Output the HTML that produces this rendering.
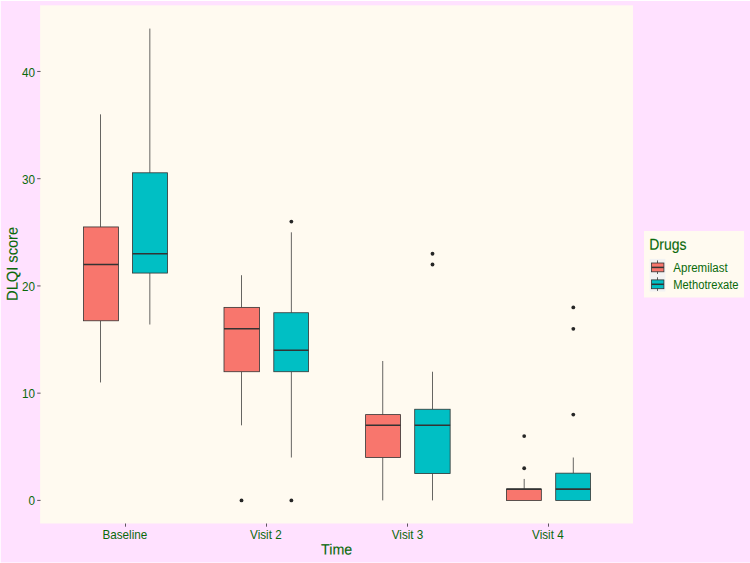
<!DOCTYPE html>
<html>
<head>
<meta charset="utf-8">
<title>DLQI score by Time</title>
<style>
html, body { margin: 0; padding: 0; background: #ffffff; }
body { width: 750px; height: 563px; overflow: hidden; font-family: "Liberation Sans", sans-serif; }
svg { display: block; }
text { font-family: "Liberation Sans", sans-serif; fill: #0a690a; }
.ax { font-size: 11.7px; }
.ti { font-size: 14.7px; }
.lt { font-size: 14.2px; }
</style>
</head>
<body>
<svg width="750" height="563" viewBox="0 0 750 563">
<rect x="0" y="0" width="750" height="563" fill="#ffffff"/>
<rect x="0.8" y="1" width="749.2" height="561.5" fill="#FFE1FF"/>
<rect x="40.1" y="5.3" width="592.90" height="518.20" fill="#FFFAF0"/>
<line x1="100.50" x2="100.50" y1="114.35" y2="226.95" stroke="#333333" stroke-width="0.75"/>
<line x1="100.50" x2="100.50" y1="320.78" y2="382.44" stroke="#333333" stroke-width="0.75"/>
<rect x="83.50" y="226.95" width="34.95" height="93.83" fill="#F8766D" stroke="#333333" stroke-width="0.8"/>
<line x1="83.50" x2="118.45" y1="264.48" y2="264.48" stroke="#333333" stroke-width="1.55"/>
<line x1="149.84" x2="149.84" y1="28.57" y2="172.8" stroke="#333333" stroke-width="0.75"/>
<line x1="149.84" x2="149.84" y1="273.06" y2="324.53" stroke="#333333" stroke-width="0.75"/>
<rect x="132.50" y="172.8" width="35.05" height="100.26" fill="#00BFC4" stroke="#333333" stroke-width="0.8"/>
<line x1="132.50" x2="167.55" y1="253.76" y2="253.76" stroke="#333333" stroke-width="1.55"/>
<circle cx="241.50" cy="500.4" r="1.9" fill="#262626"/>
<line x1="241.50" x2="241.50" y1="275.21" y2="307.38" stroke="#333333" stroke-width="0.75"/>
<line x1="241.50" x2="241.50" y1="371.72" y2="425.34" stroke="#333333" stroke-width="0.75"/>
<rect x="224.00" y="307.38" width="35.55" height="64.34" fill="#F8766D" stroke="#333333" stroke-width="0.8"/>
<line x1="224.00" x2="259.55" y1="328.82" y2="328.82" stroke="#333333" stroke-width="1.55"/>
<circle cx="291.36" cy="221.59" r="1.9" fill="#262626"/>
<circle cx="291.36" cy="500.4" r="1.9" fill="#262626"/>
<line x1="291.36" x2="291.36" y1="232.31" y2="312.74" stroke="#333333" stroke-width="0.75"/>
<line x1="291.36" x2="291.36" y1="371.72" y2="457.51" stroke="#333333" stroke-width="0.75"/>
<rect x="273.80" y="312.74" width="34.75" height="58.98" fill="#00BFC4" stroke="#333333" stroke-width="0.8"/>
<line x1="273.80" x2="308.55" y1="350.27" y2="350.27" stroke="#333333" stroke-width="1.55"/>
<line x1="382.73" x2="382.73" y1="360.99" y2="414.61" stroke="#333333" stroke-width="0.75"/>
<line x1="382.73" x2="382.73" y1="457.51" y2="500.4" stroke="#333333" stroke-width="0.75"/>
<rect x="365.60" y="414.61" width="34.95" height="42.90" fill="#F8766D" stroke="#333333" stroke-width="0.8"/>
<line x1="365.60" x2="400.55" y1="425.34" y2="425.34" stroke="#333333" stroke-width="1.55"/>
<circle cx="432.50" cy="253.76" r="1.9" fill="#262626"/>
<circle cx="432.50" cy="264.48" r="1.9" fill="#262626"/>
<line x1="432.50" x2="432.50" y1="371.72" y2="409.25" stroke="#333333" stroke-width="0.75"/>
<line x1="432.50" x2="432.50" y1="473.59" y2="500.4" stroke="#333333" stroke-width="0.75"/>
<rect x="414.70" y="409.25" width="35.45" height="64.34" fill="#00BFC4" stroke="#333333" stroke-width="0.8"/>
<line x1="414.70" x2="450.15" y1="425.34" y2="425.34" stroke="#333333" stroke-width="1.55"/>
<circle cx="524.20" cy="436.06" r="1.9" fill="#262626"/>
<circle cx="524.20" cy="468.23" r="1.9" fill="#262626"/>
<line x1="524.20" x2="524.20" y1="478.95" y2="489.14" stroke="#333333" stroke-width="0.75"/>
<rect x="506.40" y="489.14" width="34.95" height="11.26" fill="#F8766D" stroke="#333333" stroke-width="0.8"/>
<line x1="506.40" x2="541.35" y1="489.14" y2="489.14" stroke="#333333" stroke-width="1.55"/>
<circle cx="573.30" cy="307.38" r="1.9" fill="#262626"/>
<circle cx="573.30" cy="328.82" r="1.9" fill="#262626"/>
<circle cx="573.30" cy="414.61" r="1.9" fill="#262626"/>
<line x1="573.30" x2="573.30" y1="457.51" y2="473.16" stroke="#333333" stroke-width="0.75"/>
<rect x="555.70" y="473.16" width="34.75" height="27.24" fill="#00BFC4" stroke="#333333" stroke-width="0.8"/>
<line x1="555.70" x2="590.45" y1="489.14" y2="489.14" stroke="#333333" stroke-width="1.55"/>
<line x1="37.2" x2="40.6" y1="500.4" y2="500.4" stroke="#333333" stroke-width="0.8"/>
<text transform="translate(35.10,505.45) scale(1,1.1)" text-anchor="end" font-size="11.7">0</text>
<line x1="37.2" x2="40.6" y1="393.16" y2="393.16" stroke="#333333" stroke-width="0.8"/>
<text transform="translate(35.10,398.21) scale(1,1.1)" text-anchor="end" font-size="11.7">10</text>
<line x1="37.2" x2="40.6" y1="285.93" y2="285.93" stroke="#333333" stroke-width="0.8"/>
<text transform="translate(35.10,290.98) scale(1,1.1)" text-anchor="end" font-size="11.7">20</text>
<line x1="37.2" x2="40.6" y1="178.69" y2="178.69" stroke="#333333" stroke-width="0.8"/>
<text transform="translate(35.10,183.74) scale(1,1.1)" text-anchor="end" font-size="11.7">30</text>
<line x1="37.2" x2="40.6" y1="71.46" y2="71.46" stroke="#333333" stroke-width="0.8"/>
<text transform="translate(35.10,76.51) scale(1,1.1)" text-anchor="end" font-size="11.7">40</text>
<line x1="125.50" x2="125.50" y1="523.5" y2="526.70" stroke="#333333" stroke-width="0.8"/>
<text transform="translate(124.90,538.90) scale(1,1.1)" text-anchor="middle" font-size="11.7">Baseline</text>
<line x1="266.50" x2="266.50" y1="523.5" y2="526.70" stroke="#333333" stroke-width="0.8"/>
<text transform="translate(265.90,538.90) scale(1,1.1)" text-anchor="middle" font-size="11.7">Visit 2</text>
<line x1="407.50" x2="407.50" y1="523.5" y2="526.70" stroke="#333333" stroke-width="0.8"/>
<text transform="translate(407.50,538.90) scale(1,1.1)" text-anchor="middle" font-size="11.7">Visit 3</text>
<line x1="548.50" x2="548.50" y1="523.5" y2="526.70" stroke="#333333" stroke-width="0.8"/>
<text transform="translate(547.90,538.90) scale(1,1.1)" text-anchor="middle" font-size="11.7">Visit 4</text>
<text transform="translate(336.60,554.60) rotate(0.06) scale(1,1.04)" text-anchor="middle" font-size="14.25" stroke="#0a690a" stroke-width="0.12">Time</text>
<text transform="translate(17.50,263.90) rotate(-89.9) scale(1,1.06)" text-anchor="middle" font-size="14.65" stroke="#0a690a" stroke-width="0.12">DLQI score</text>
<rect x="644" y="231" width="100" height="66.5" fill="#FFFAF0"/>
<text transform="translate(649.30,249.75) rotate(0.06) scale(1,1.13)" text-anchor="start" font-size="13.95" stroke="#0a690a" stroke-width="0.12">Drugs</text>
<rect x="649.6" y="258.90" width="15.8" height="16.3" fill="#F2F2F2"/>
<line x1="657.5" x2="657.5" y1="260.40" y2="274.00" stroke="#333333" stroke-width="0.8"/>
<rect x="651.6" y="263.00" width="12.3" height="8.8" fill="#F8766D" stroke="#333333" stroke-width="0.8"/>
<line x1="651.6" x2="663.9" y1="267.40" y2="267.40" stroke="#333333" stroke-width="1.5"/>
<text textLength="54.4" lengthAdjust="spacingAndGlyphs" transform="translate(673.30,272.00) scale(1,1.1)" text-anchor="start" font-size="11.5">Apremilast</text>
<rect x="649.6" y="275.20" width="15.8" height="16.3" fill="#F2F2F2"/>
<line x1="657.5" x2="657.5" y1="277.30" y2="290.90" stroke="#333333" stroke-width="0.8"/>
<rect x="651.6" y="279.90" width="12.3" height="8.8" fill="#00BFC4" stroke="#333333" stroke-width="0.8"/>
<line x1="651.6" x2="663.9" y1="284.30" y2="284.30" stroke="#333333" stroke-width="1.5"/>
<text textLength="65.3" lengthAdjust="spacingAndGlyphs" transform="translate(673.30,288.90) scale(1,1.1)" text-anchor="start" font-size="11.5">Methotrexate</text>
</svg>
</body>
</html>
